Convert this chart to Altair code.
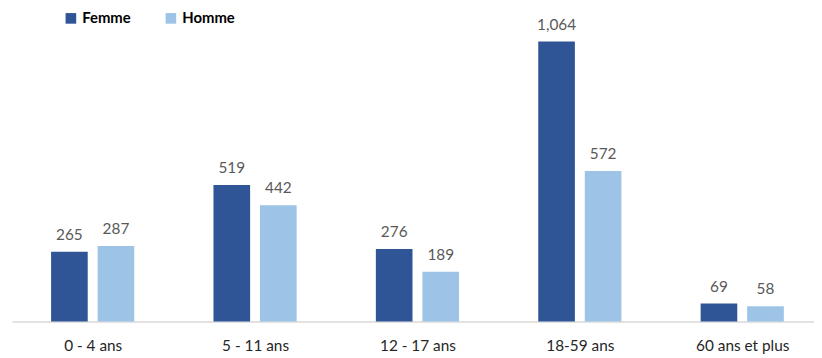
import json
import altair as alt
import pandas as pd

categories = ["0 - 4 ans", "5 - 11 ans", "12 - 17 ans", "18-59 ans", "60 ans et plus"]
femme = [265, 519, 276, 1064, 69]
homme = [287, 442, 189, 572, 58]
series = ["Femme", "Homme"]
colors = ["#2F5597", "#9DC3E6"]

rows = []
for i, (c, f, h) in enumerate(zip(categories, femme, homme)):
    rows.append({"idx": i, "cat": c, "sexe": "Femme", "val": f})
    rows.append({"idx": i, "cat": c, "sexe": "Homme", "val": h})
df = pd.DataFrame(rows)

FONT = "Lato"
BAR_W = 37
SHIFT = 23.5

x = alt.X("idx:Q", title=None,
          scale=alt.Scale(domain=[-0.497, 4.442], nice=False, zero=False, padding=0),
          axis=alt.Axis(values=list(range(len(categories))),
                        labelExpr=json.dumps(categories) + "[datum.value]",
                        labelAngle=0, ticks=False, grid=False, labelFlush=False,
                        labelOverlap=False,
                        domainColor="#D9D9D9", domainWidth=1.5,
                        labelFontSize=15.5, labelColor="#262626", labelFont=FONT, labelPadding=17))
y = alt.Y("val:Q", scale=alt.Scale(domain=[0, 1162], nice=False, padding=0), axis=None)
color = alt.Color("sexe:N", sort=series, scale=alt.Scale(domain=series, range=colors),
                  legend=alt.Legend(title=None, orient="none", legendX=52, legendY=-5,
                                    direction="horizontal", symbolType="square",
                                    symbolSize=115, symbolStrokeWidth=0,
                                    labelFontSize=15, labelFontWeight="bold",
                                    labelFont=FONT, labelColor="#000000",
                                    labelOffset=4, columnPadding=33))

base = alt.Chart(df)
layers = []
for s, off in zip(series, [-SHIFT, SHIFT]):
    sub = base.transform_filter(alt.datum.sexe == s)
    layers.append(sub.mark_bar(width=BAR_W, xOffset=off).encode(x=x, y=y, color=color))
    layers.append(sub.mark_text(baseline="bottom", dy=-9, xOffset=off, fontSize=15.5,
                                color="#595959", font=FONT).encode(
        x=x, y=y, text=alt.Text("val:Q", format=",")))

chart = alt.layer(*layers).properties(
    width=810, height=309,
    autosize=alt.AutoSizeParams(type="none"),
    padding={"left": 4, "top": 6, "right": 0, "bottom": 34},
).configure_view(stroke=None)

chart.save("out.html", embed_options={"renderer": "svg", "actions": False})
